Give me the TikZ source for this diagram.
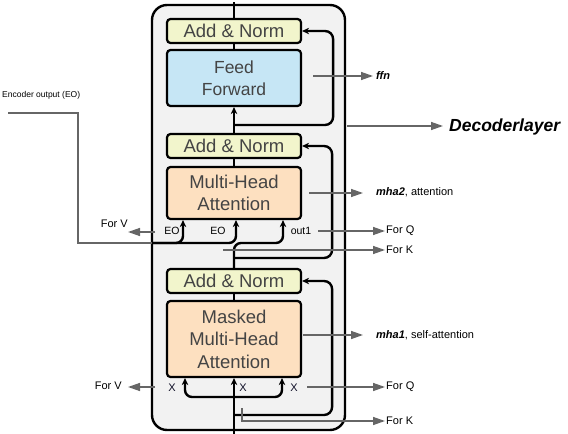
\documentclass[tikz,border=0pt]{standalone}
\usepackage{fontspec}
\setmainfont{Liberation Sans}
\usetikzlibrary{arrows.meta}
\definecolor{anfill}{HTML}{F2F5CC}
\definecolor{fffill}{HTML}{C6E6F5}
\definecolor{mhfill}{HTML}{FDE0C0}
\definecolor{boxtext}{HTML}{444444}
\definecolor{annot}{HTML}{666666}
\definecolor{outerfill}{HTML}{F2F2F2}
\definecolor{xcol}{HTML}{101028}
\begin{document}
\begin{tikzpicture}[x=1pt,y=-1pt,
  blk/.style={draw, line width=2.2pt, rounded corners=3.5pt, minimum width=134pt,
    text=boxtext, font=\fontsize{18.5}{22.5}\selectfont, align=center, inner sep=0pt},
  anbox/.style={blk, fill=anfill, minimum height=24pt},
  mainln/.style={line width=2.4pt, black},
  mainarr/.style={mainln, -{Stealth[length=7pt,width=6.5pt]}},
  ann/.style={annot, line width=1.4pt, -{Triangle[length=12pt,width=8pt]}},
  annline/.style={annot, line width=1.4pt},
  lbl/.style={inner sep=1pt, font=\fontsize{11}{13}\selectfont},
  sml/.style={inner sep=0.5pt, font=\fontsize{10.5}{12}\selectfont},
  xl/.style={inner sep=0.5pt, text=xcol, font=\fontsize{11}{12}\selectfont}]
\useasboundingbox (0,0) rectangle (568,434);

% outer decoder layer box
\draw[line width=2.4pt, fill=outerfill, rounded corners=15pt] (152,5) rectangle (345,430);

% blocks
\node[anbox] (topAN) at (234,31) {Add \& Norm};
\node[blk, fill=fffill, minimum height=56pt, font=\fontsize{17.5}{22.5}\selectfont] (FF) at (234,78) {Feed\\Forward};
\node[anbox] (midAN) at (234,146) {Add \& Norm};
\node[blk, fill=mhfill, minimum height=52pt] (MHA) at (234,193) {Multi-Head\\Attention};
\node[anbox] (lowAN) at (234,281) {Add \& Norm};
\node[blk, fill=mhfill, minimum height=76pt] (MMHA) at (234,339) {Masked\\Multi-Head\\Attention};

% main path coordinates
\coordinate (top) at (234,2);
\coordinate (bot) at (234,434);
\coordinate (ls) at (234,415);
\coordinate (lq) at (234,397);
\coordinate (ms) at (234,258);
\coordinate (ts) at (234,125);
\coordinate (eoin) at (152,243);

% main black lines
\draw[mainarr] (bot) -- (MMHA.south);
\draw[mainarr, rounded corners=7pt] (lq) -| ([xshift=-49pt]MMHA.south);
\draw[mainarr, rounded corners=7pt] (lq) -| ([xshift=48pt]MMHA.south);
\draw[mainarr, rounded corners=8pt] (ls) -| ([xshift=30pt]lowAN.east) -- (lowAN.east);
\draw[mainln] (MMHA.north) -- (lowAN.south);
\draw[mainarr, rounded corners=7pt] (lowAN.north) |- (262,243) -| ([xshift=49pt]MHA.south);
\draw[mainarr, rounded corners=8pt] (ms) -| ([xshift=30pt]midAN.east) -- (midAN.east);
\draw[mainarr, rounded corners=7pt] (eoin) -| ([xshift=-51pt]MHA.south);
\draw[mainarr, rounded corners=7pt] (eoin) -| ([xshift=2pt]MHA.south);
\draw[mainln] (MHA.north) -- (midAN.south);
\draw[mainarr] (midAN.north) -- (FF.south);
\draw[mainarr, rounded corners=8pt] (ts) -| ([xshift=31pt]topAN.east) -- (topAN.east);
\draw[mainln] (FF.north) -- (topAN.south);
\draw[mainln] (topAN.north) -- (top);

% encoder output
\node[inner sep=0pt, anchor=west, font=\fontsize{8.5}{10}\selectfont] (eol) at (2,95) {Encoder output (EO)};
\coordinate (eostart) at (8,113);
\draw[annline] (eostart) -| (78,243) -- (eoin);

% small labels at inputs
\node[sml] (eo1) at (172,231) {EO};
\node[sml] (eo2) at (218,231) {EO};
\node[sml] (out1) at (301,231) {out1};
\node[xl] (x1) at (172,388) {X};
\node[xl] (x2) at (243,388) {X};
\node[xl] (x3) at (294,388) {X};

% annotation labels
\node[lbl, anchor=west] (ffnl) at (375,76) {\textbf{\textit{ffn}}};
\node[lbl, anchor=west, font=\fontsize{17.5}{20}\selectfont\bfseries\itshape] (decl) at (448,127) {Decoderlayer};
\node[lbl, anchor=west] (mha2l) at (375,192) {\textbf{\textit{mha2}}, attention};
\node[lbl, anchor=west] (fq1) at (385,231) {For Q};
\node[lbl, anchor=west] (fk1) at (385,250) {For K};
\node[lbl, anchor=east] (fv1) at (129,224) {For V};
\node[lbl, anchor=west] (mha1l) at (375,335) {\textbf{\textit{mha1}}, self-attention};
\node[lbl, anchor=west] (fq2) at (385,387) {For Q};
\node[lbl, anchor=west] (fk2) at (385,421) {For K};
\node[lbl, anchor=east] (fv2) at (123,386) {For V};

% annotation arrows
\coordinate (ffns) at (313,76);
\draw[ann] (ffns) -- ([xshift=-2pt]ffnl.west);
\coordinate (decs) at (347,126);
\draw[ann] (decs) -- ([xshift=-5pt]decl.west |- decs);
\coordinate (mha2s) at (309,193);
\draw[ann] (mha2s) -- ([xshift=-12pt]mha2l.west |- mha2s);
\coordinate (fq1s) at (318,231);
\draw[ann] (fq1s) -- (fq1.west);
\coordinate (fk1s) at (223,250);
\draw[ann] (fk1s) -- (fk1.west);
\coordinate (fv1s) at (155,232);
\coordinate (fv1t) at (128,232);
\draw[ann] (fv1s) -- (fv1t);
\coordinate (mha1s) at (303,335);
\draw[ann] (mha1s) -- ([xshift=-12pt]mha1l.west |- mha1s);
\coordinate (fq2s) at (307,387);
\draw[ann] (fq2s) -- (fq2.west |- fq2s);
\coordinate (fk2s) at (242,408);
\draw[ann] (fk2s) |- (fk2.west);
\coordinate (fv2s) at (155,387);
\coordinate (fv2t) at (128,387);
\draw[ann] (fv2s) -- (fv2t);
\end{tikzpicture}
\end{document}
